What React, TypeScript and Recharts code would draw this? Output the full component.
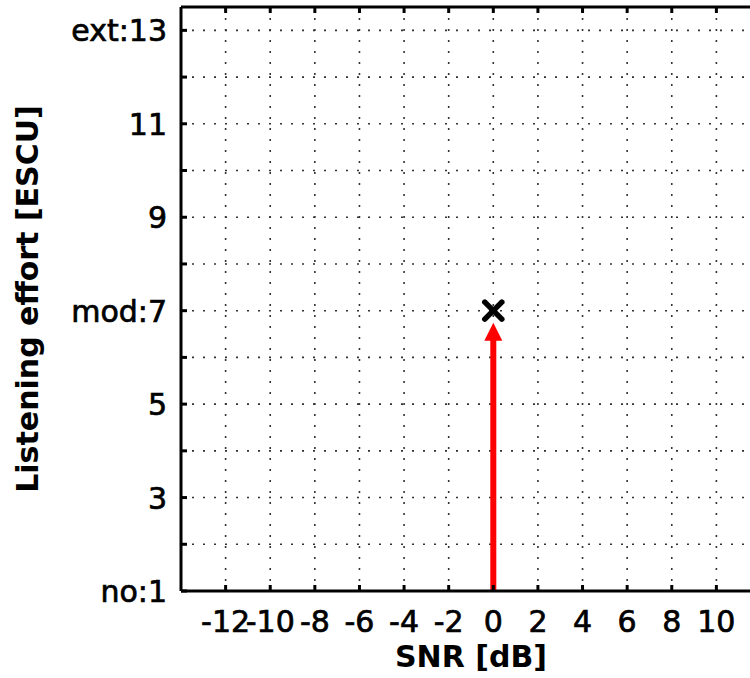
import React from 'react';
import { ComposedChart, XAxis, YAxis, CartesianGrid, Line, Scatter, Label } from 'recharts';

// axis ranges and ticks
const snrDomain = [-14, 12];
const snrTicks = [-12, -10, -8, -6, -4, -2, 0, 2, 4, 6, 8, 10];
const effortDomain = [1, 13.5];
const effortTicks = [1, 2, 3, 4, 5, 6, 7, 8, 9, 10, 11, 12, 13];
const effortLabels: Record<number, string> = { 1: 'no:1', 3: '3', 5: '5', 7: 'mod:7', 9: '9', 11: '11', 13: 'ext:13' };

// measured point (black cross)
const pointSnr = [0];
const pointEffort = [7];

// red arrow: shaft from the bottom up to the arrow head
const arrowSnr = [0, 0];
const arrowEffort = [1, 6.4];
const arrowTipEffort = [6.74];

const pointData = pointSnr.map((s, i) => ({ snr: s, effort: pointEffort[i] }));
const shaftData = arrowSnr.map((s, i) => ({ snr: s, effort: arrowEffort[i] }));
const tipData = arrowTipEffort.map((e) => ({ snr: arrowSnr[1], effort: e }));

const FONT = '"DejaVu Sans", sans-serif';

const BottomTick = (props: any) => {
  const { x, y, payload } = props;
  return (
    <g>
      <line x1={x} x2={x} y1={y} y2={y - 6} stroke="#000" strokeWidth={3} />
      <text x={x} y={y + 41} textAnchor="middle" fontFamily={FONT} fontSize={30} fill="#000" stroke="#000" strokeWidth={0.7}>
        {payload.value}
      </text>
    </g>
  );
};

const TopTick = (props: any) => {
  const { x, y } = props;
  return <line x1={x} x2={x} y1={y} y2={y + 6} stroke="#000" strokeWidth={3} />;
};

const LeftTick = (props: any) => {
  const { x, y, payload } = props;
  const txt = effortLabels[payload.value];
  return (
    <g>
      <line x1={x} x2={x + 6} y1={y} y2={y} stroke="#000" strokeWidth={3} />
      {txt && (
        <text x={x - 14} y={y + 11} textAnchor="end" fontFamily={FONT} fontSize={30} fill="#000" stroke="#000" strokeWidth={0.7}>
          {txt}
        </text>
      )}
    </g>
  );
};

const Cross = (props: any) => {
  const { cx, cy } = props;
  const r = 8.5;
  return (
    <g stroke="#000" strokeWidth={5.5} strokeLinecap="round">
      <line x1={cx - r} y1={cy - r} x2={cx + r} y2={cy + r} />
      <line x1={cx - r} y1={cy + r} x2={cx + r} y2={cy - r} />
    </g>
  );
};

const ArrowHead = (props: any) => {
  const { cx, cy } = props;
  return <polygon points={`${cx},${cy} ${cx - 9},${cy + 18} ${cx + 9},${cy + 18}`} fill="#ff0000" />;
};

export default function App() {
  return (
    <div style={{ position: 'fixed', left: 0, top: 0, width: 750, height: 678, overflow: 'hidden', background: '#fff' }}>
      <ComposedChart width={780} height={678} margin={{ top: 0, right: 19, bottom: 0, left: 0 }}>
        <CartesianGrid stroke="#333" strokeWidth={1.6} strokeDasharray="2 9" />
        <XAxis
          xAxisId="top"
          orientation="top"
          dataKey="snr"
          type="number"
          domain={snrDomain}
          ticks={snrTicks}
          allowDataOverflow
          height={7}
          tickSize={0}
          tickMargin={0}
          tick={<TopTick />}
          axisLine={{ stroke: '#000', strokeWidth: 3 }}
        />
        <XAxis
          dataKey="snr"
          type="number"
          domain={snrDomain}
          ticks={snrTicks}
          allowDataOverflow
          height={87}
          tickSize={0}
          tickMargin={0}
          tick={<BottomTick />}
          axisLine={{ stroke: '#000', strokeWidth: 3 }}
        >
          <Label
            content={(p: any) => {
              const vb = p.viewBox;
              return (
                <text x={vb.x + vb.width / 2} y={vb.y + 76} textAnchor="middle" fontFamily={FONT} fontWeight="bold" fontSize={30} fill="#000">
                  SNR [dB]
                </text>
              );
            }}
          />
        </XAxis>
        <YAxis
          dataKey="effort"
          type="number"
          domain={effortDomain}
          ticks={effortTicks}
          allowDataOverflow
          width={181}
          tickSize={0}
          tickMargin={0}
          tick={<LeftTick />}
          axisLine={{ stroke: '#000', strokeWidth: 3 }}
        >
          <Label
            content={(p: any) => {
              const vb = p.viewBox;
              const cy = vb.y + vb.height / 2;
              return (
                <text x={38} y={cy} transform={`rotate(-90 38 ${cy})`} textAnchor="middle" fontFamily={FONT} fontWeight="bold" fontSize={30} fill="#000">
                  Listening effort [ESCU]
                </text>
              );
            }}
          />
        </YAxis>
        <Line data={shaftData} dataKey="effort" stroke="#ff0000" strokeWidth={6} dot={false} activeDot={false} isAnimationActive={false} />
        <Scatter data={tipData} dataKey="effort" shape={<ArrowHead />} isAnimationActive={false} />
        <Scatter data={pointData} dataKey="effort" shape={<Cross />} isAnimationActive={false} />
      </ComposedChart>
    </div>
  );
}
